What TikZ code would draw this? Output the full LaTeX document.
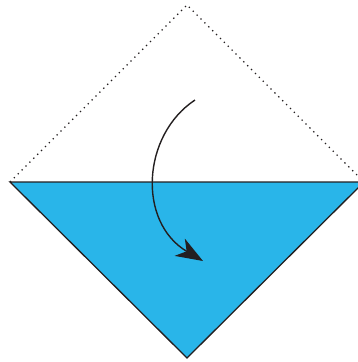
\documentclass[tikz,border=0pt]{standalone}
\usetikzlibrary{arrows.meta}
\definecolor{fold}{HTML}{29B5E9}
\definecolor{ink}{HTML}{231F20}
\tikzset{
  edge/.style={draw=ink, line width=1.3pt},
  dotline/.style={draw=ink, line width=1.2pt, dash pattern=on 1.3pt off 4.2pt},
  foldarrow/.style={draw=ink, line width=1.4pt, -{Stealth[length=27pt,width=20pt,inset=8pt]}}
}
\begin{document}
\begin{tikzpicture}[x=1pt,y=-1pt]
\useasboundingbox (0,0) rectangle (358,362);
\clip (0,0) rectangle (358,362);
\coordinate (L) at (10,182);
\coordinate (R) at (364,182);
\coordinate (T) at (187,5);
\coordinate (B) at (187,358);
\coordinate (S) at (195,100);
\coordinate (E) at (203,261);
\fill[fold] (L) -- (R) -- (B) -- cycle;
\draw[dotline] (L) -- (T) -- (R);
\draw[edge, line join=miter] (L) -- (R) -- (B) -- cycle;
\draw[foldarrow] (S) .. controls (142,135) and (137,222) .. (E);
\end{tikzpicture}
\end{document}
